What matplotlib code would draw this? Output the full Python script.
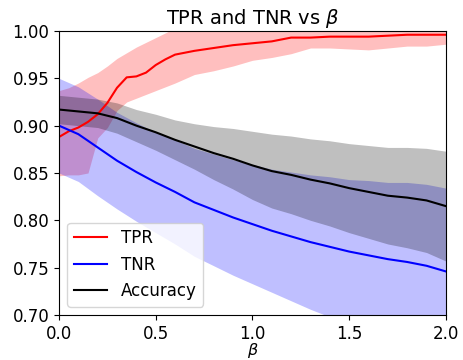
import matplotlib
matplotlib.use("Agg")
import matplotlib.pyplot as plt
import numpy as np

# --- data ---
beta_tpr = [0.0, 0.05, 0.1, 0.15, 0.2, 0.25, 0.3, 0.35, 0.4, 0.45, 0.5, 0.55, 0.6,
            0.7, 0.8, 0.9, 1.0, 1.1, 1.2, 1.3, 1.4, 1.5, 1.6, 1.7, 1.8, 1.9, 2.0]
tpr_mean = [0.888, 0.894, 0.898, 0.904, 0.912, 0.924, 0.940, 0.951, 0.952, 0.956, 0.964, 0.970, 0.975,
            0.979, 0.982, 0.985, 0.987, 0.989, 0.993, 0.993, 0.994, 0.994, 0.994, 0.995, 0.996, 0.996, 0.996]
tpr_hi = [0.937, 0.940, 0.945, 0.951, 0.956, 0.963, 0.971, 0.977, 0.983, 0.988, 0.993, 0.998, 1.003,
          1.006, 1.008, 1.009, 1.010, 1.010, 1.010, 1.010, 1.010, 1.010, 1.010, 1.010, 1.010, 1.010, 1.010]
tpr_lo = [0.847, 0.848, 0.848, 0.850, 0.887, 0.898, 0.916, 0.925, 0.929, 0.933, 0.937, 0.941, 0.945,
          0.954, 0.958, 0.963, 0.969, 0.972, 0.976, 0.982, 0.982, 0.981, 0.980, 0.982, 0.984, 0.984, 0.986]

beta = [0.0, 0.1, 0.2, 0.3, 0.4, 0.5, 0.6, 0.7, 0.8, 0.9, 1.0,
        1.1, 1.2, 1.3, 1.4, 1.5, 1.6, 1.7, 1.8, 1.9, 2.0]
tnr_mean = [0.900, 0.891, 0.877, 0.863, 0.851, 0.840, 0.830, 0.819, 0.811, 0.803, 0.796,
            0.789, 0.783, 0.777, 0.772, 0.767, 0.763, 0.759, 0.756, 0.752, 0.746]
tnr_std = [0.050, 0.050, 0.051, 0.051, 0.052, 0.053, 0.055, 0.057, 0.059, 0.061, 0.063,
           0.065, 0.068, 0.071, 0.074, 0.076, 0.079, 0.081, 0.084, 0.086, 0.088]
acc_mean = [0.917, 0.915, 0.913, 0.908, 0.900, 0.893, 0.885, 0.878, 0.871, 0.865, 0.858,
            0.852, 0.848, 0.843, 0.839, 0.834, 0.830, 0.826, 0.824, 0.821, 0.815]
acc_std = [0.015, 0.015, 0.015, 0.016, 0.017, 0.019, 0.021, 0.024, 0.028, 0.032, 0.036,
           0.039, 0.041, 0.043, 0.045, 0.047, 0.049, 0.051, 0.053, 0.055, 0.058]

xticks = [0.0, 0.5, 1.0, 1.5, 2.0]
yticks = [0.70, 0.75, 0.80, 0.85, 0.90, 0.95, 1.00]

plt.rcParams['font.size'] = 12

fig = plt.figure(figsize=(4.63, 3.6), dpi=100)
ax = fig.add_axes([0.1274, 0.1250, 0.8356, 0.7890])

b = np.array(beta)
tm, ts = np.array(tnr_mean), np.array(tnr_std)
am, as_ = np.array(acc_mean), np.array(acc_std)

ax.plot(beta_tpr, tpr_mean, color='red', lw=1.5, label='TPR')
ax.fill_between(beta_tpr, tpr_lo, tpr_hi, color='red', alpha=0.25, lw=0)
ax.plot(b, tm, color='blue', lw=1.5, label='TNR')
ax.fill_between(b, tm - ts, tm + ts, color='blue', alpha=0.25, lw=0)
ax.plot(b, am, color='black', lw=1.5, label='Accuracy')
ax.fill_between(b, am - as_, am + as_, color='black', alpha=0.25, lw=0)

ax.set_xlim(0, 2.0)
ax.set_ylim(0.70, 1.00)
ax.set_xticks(xticks)
ax.set_yticks(yticks)
ax.set_xlabel(r'$\beta$', labelpad=-1, fontsize=11.5)
ax.set_title(r'TPR and TNR vs $\beta$', fontsize=14, pad=5)
ax.legend(loc='lower left', fontsize=12)

fig.savefig('out.png', dpi=100)
